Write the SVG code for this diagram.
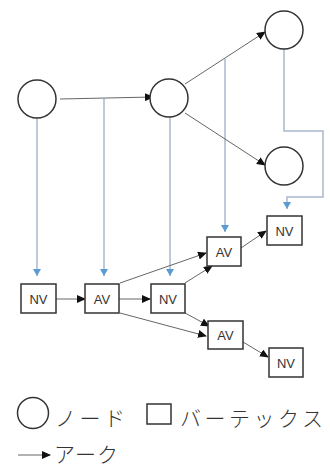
<svg xmlns="http://www.w3.org/2000/svg" width="330" height="467" viewBox="0 0 330 467">
<style>
.node{fill:#fff;stroke:#333;stroke-width:1.5}
.box{fill:#fff;stroke:#333;stroke-width:1.5}
.lbl{font-family:"Liberation Sans",Arial,sans-serif;font-size:13px;fill:#333;text-anchor:middle}
.arc{fill:none;stroke:#666;stroke-width:1}
.link{fill:none;stroke:#a9b9cb;stroke-width:1.5}
.jp{font-family:"Noto Sans CJK JP","Noto Sans",sans-serif;font-size:21px;fill:#333;font-weight:300}
</style>
<defs>
<marker id="ah" markerWidth="9" markerHeight="8" refX="8" refY="4" orient="auto" markerUnits="userSpaceOnUse">
<path d="M0,0 L9,4 L0,8 Z" fill="#111"/>
</marker>
<marker id="bh" markerWidth="8" markerHeight="7" refX="4" refY="7" orient="0" markerUnits="userSpaceOnUse">
<path d="M0,0 L8,0 L4,7 Z" fill="#5b9bd5"/>
</marker>
</defs>
<g id="connectors">
<path class="link" d="M37,118 V276" marker-end="url(#bh)"/>
<path class="link" d="M104,99 V276" marker-end="url(#bh)"/>
<path class="link" d="M170,117 V276" marker-end="url(#bh)"/>
<path class="link" d="M225,59 V232" marker-end="url(#bh)"/>
<path class="link" d="M284,49 V131 H323 V197 H287 V209" marker-end="url(#bh)"/>
<path class="arc" d="M60,99 L153,97" marker-end="url(#ah)"/>
<path class="arc" d="M185,84 L265,32" marker-end="url(#ah)"/>
<path class="arc" d="M185,113 L265,165" marker-end="url(#ah)"/>
<path class="arc" d="M56,299 L85,299" marker-end="url(#ah)"/>
<path class="arc" d="M119,299 L150,299" marker-end="url(#ah)"/>
<path class="arc" d="M120,283 L206,253" marker-end="url(#ah)"/>
<path class="arc" d="M185,283 L212,266" marker-end="url(#ah)"/>
<path class="arc" d="M120,313 L206,336" marker-end="url(#ah)"/>
<path class="arc" d="M185,313 L209,326" marker-end="url(#ah)"/>
<path class="arc" d="M241,248 L266,231" marker-end="url(#ah)"/>
<path class="arc" d="M243,342 L268,357" marker-end="url(#ah)"/>
</g>
<g id="n1"><circle class="node" cx="37" cy="99" r="19"/></g>
<g id="n2"><circle class="node" cx="169" cy="98" r="19"/></g>
<g id="n3"><circle class="node" cx="284" cy="30" r="19"/></g>
<g id="n4"><circle class="node" cx="284" cy="166" r="19"/></g>
<g id="v1"><rect class="box" x="21" y="284" width="35" height="29"/><text class="lbl" x="38.5" y="303.5">NV</text></g>
<g id="v2"><rect class="box" x="85" y="284" width="34" height="29"/><text class="lbl" x="102" y="303.5">AV</text></g>
<g id="v3"><rect class="box" x="151" y="284" width="34" height="29"/><text class="lbl" x="168" y="303.5">NV</text></g>
<g id="v4"><rect class="box" x="207" y="237" width="34" height="29"/><text class="lbl" x="224" y="256.5">AV</text></g>
<g id="v5"><rect class="box" x="267" y="216" width="35" height="29"/><text class="lbl" x="284.5" y="235.5">NV</text></g>
<g id="v6"><rect class="box" x="208" y="321" width="35" height="28"/><text class="lbl" x="225.5" y="340">AV</text></g>
<g id="v7"><rect class="box" x="269" y="348" width="34" height="29"/><text class="lbl" x="286" y="367.5">NV</text></g>
<g id="legend">
<circle class="node" cx="33" cy="413" r="15.5"/>
<text class="jp" x="55" y="426" textLength="70">ノード</text>
<rect class="box" x="147" y="404" width="24" height="20"/>
<text class="jp" x="180" y="426" textLength="143">バーテックス</text>
<path class="arc" d="M18,455 L50,455" stroke="#333" marker-end="url(#ah)"/>
<text class="jp" x="54" y="462" textLength="64">アーク</text>
</g>
</svg>
